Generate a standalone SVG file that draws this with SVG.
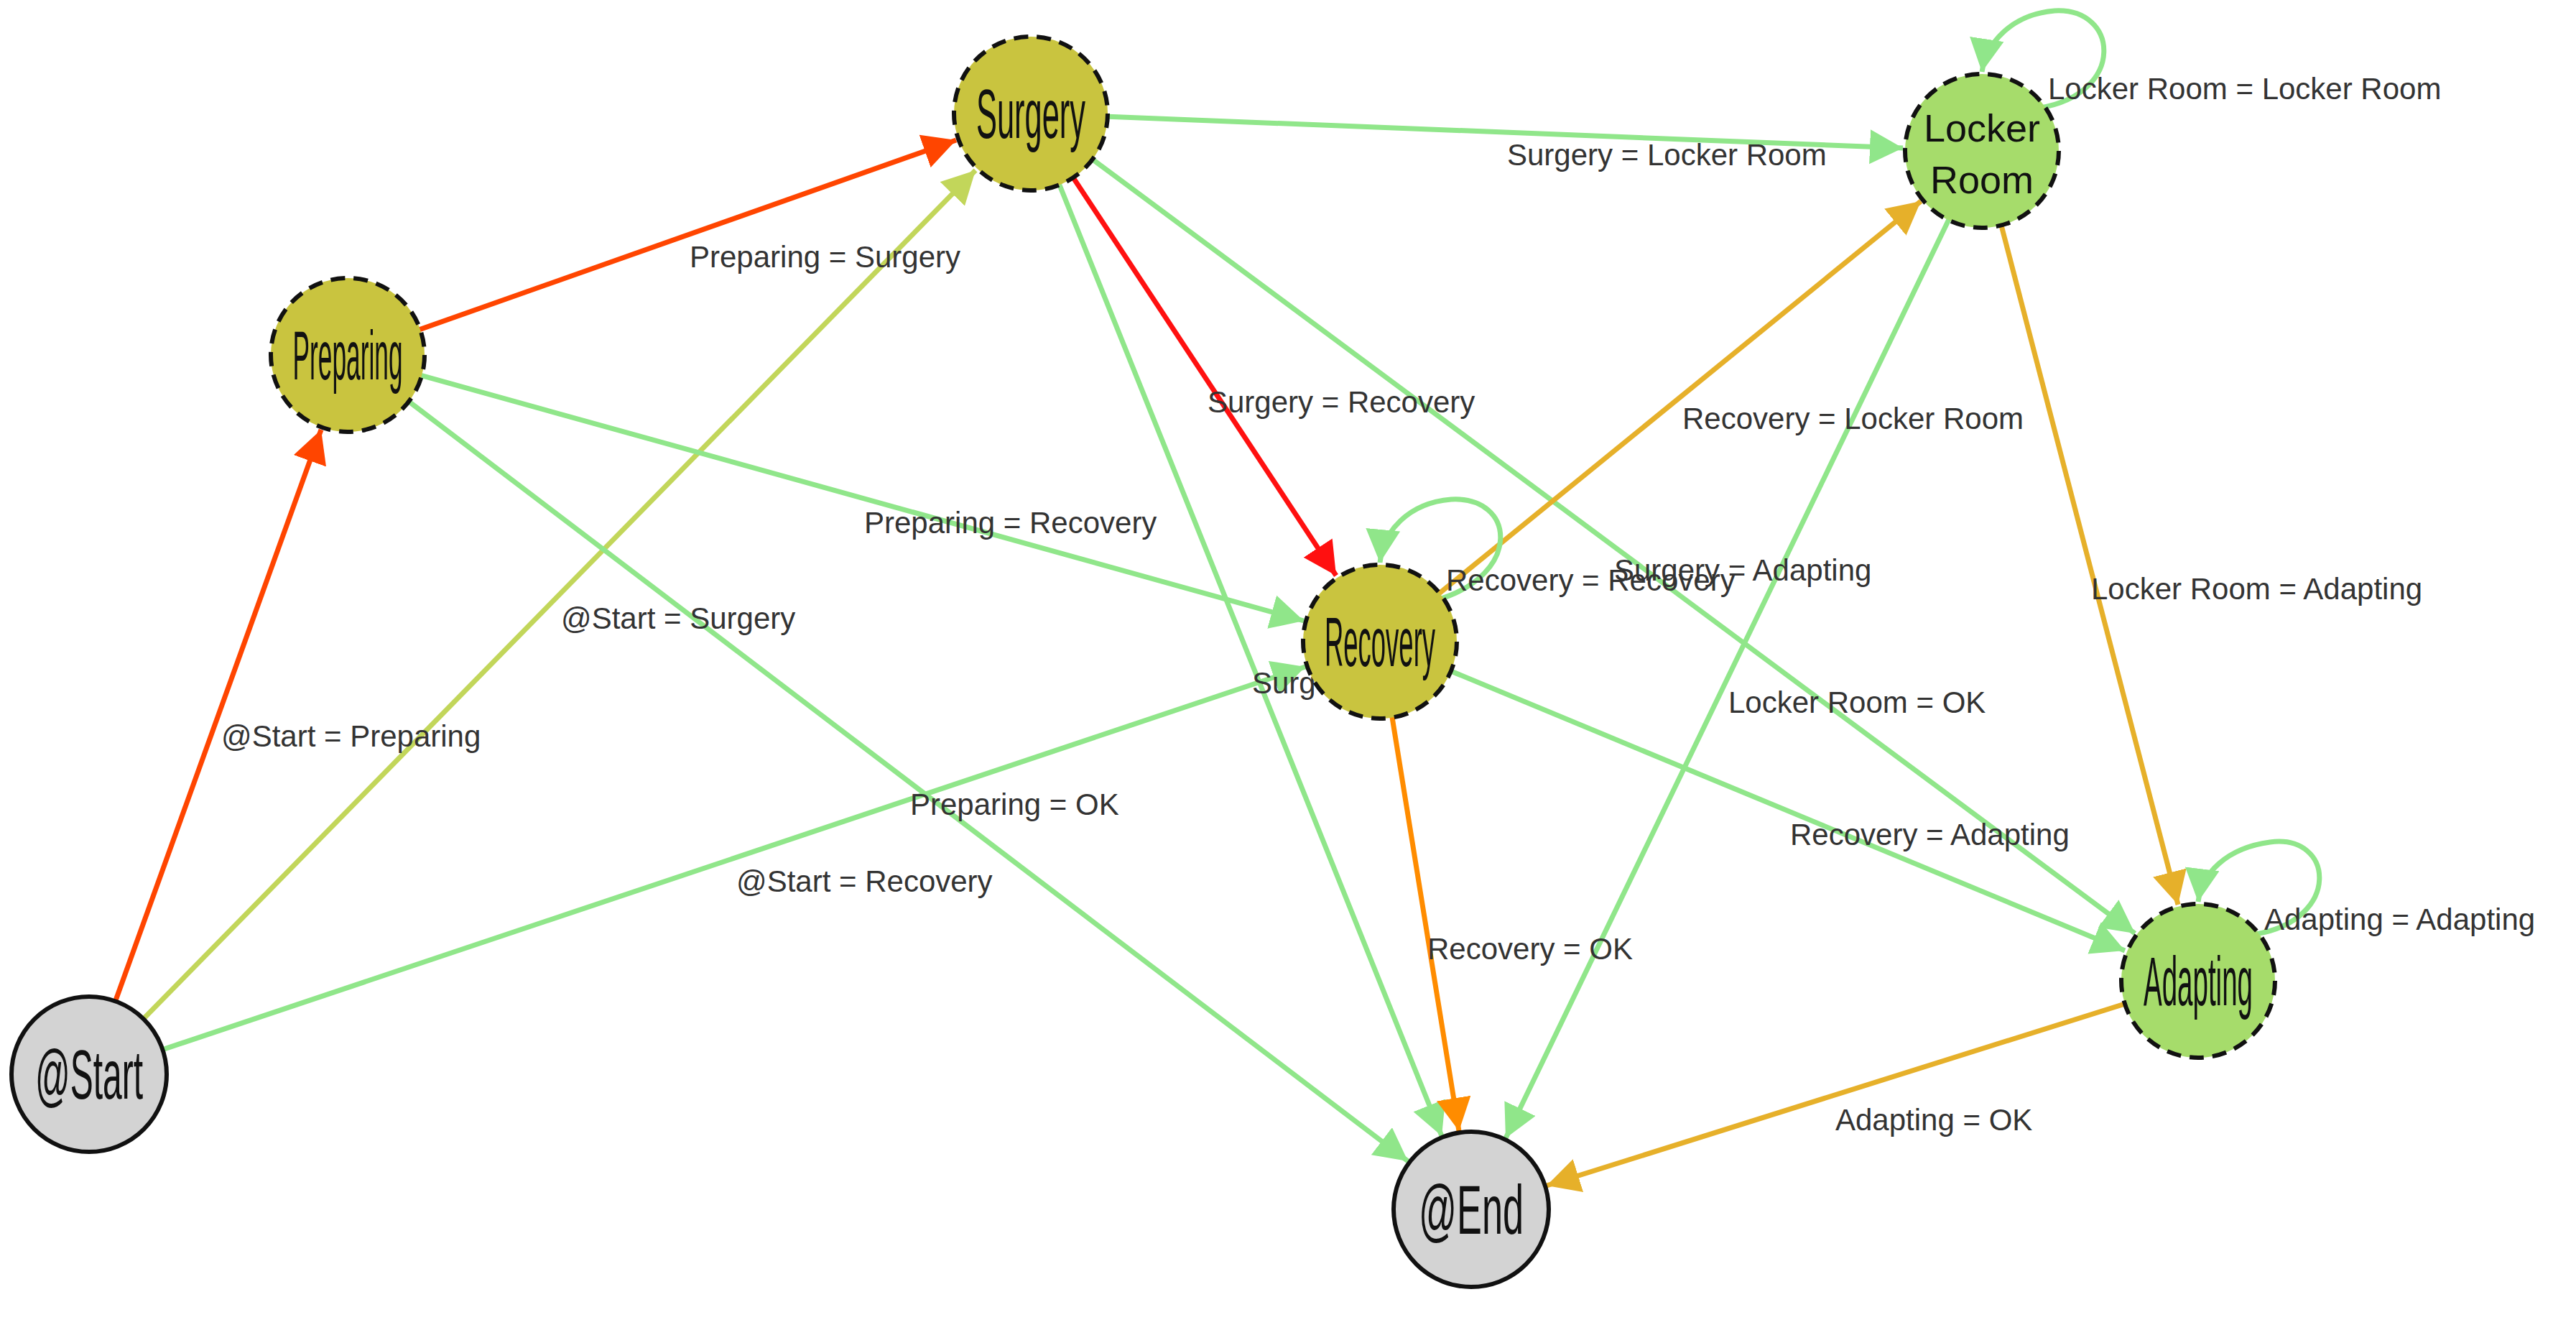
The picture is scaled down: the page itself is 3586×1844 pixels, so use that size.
<svg xmlns="http://www.w3.org/2000/svg" width="3586" height="1844" viewBox="0 0 3586 1844">
<style>
.e{fill:none;stroke-width:7}
.lbl{font-family:"Liberation Sans",Arial,sans-serif;font-size:42px;fill:#333}
.nt{font-family:"Liberation Sans",Arial,sans-serif;font-size:96px;fill:#111;text-anchor:middle;dominant-baseline:central}
.dash{stroke:#111;stroke-width:6;stroke-dasharray:20 12}
.solid{stroke:#111;stroke-width:6;fill:#d3d3d3}
.ol{fill:#c9c43f}
.gr{fill:#a6dc6b}
</style>
<defs>
<marker id="mRO" markerUnits="userSpaceOnUse" markerWidth="50" markerHeight="50" refX="46" refY="24" orient="auto"><path d="M0,0 L46,24 L0,48 Z" fill="#ff4500"/></marker>
<marker id="mR" markerUnits="userSpaceOnUse" markerWidth="50" markerHeight="50" refX="46" refY="24" orient="auto"><path d="M0,0 L46,24 L0,48 Z" fill="#ff1010"/></marker>
<marker id="mYG" markerUnits="userSpaceOnUse" markerWidth="50" markerHeight="50" refX="46" refY="24" orient="auto"><path d="M0,0 L46,24 L0,48 Z" fill="#c2d65a"/></marker>
<marker id="mG" markerUnits="userSpaceOnUse" markerWidth="50" markerHeight="50" refX="46" refY="24" orient="auto"><path d="M0,0 L46,24 L0,48 Z" fill="#90e68a"/></marker>
<marker id="mO" markerUnits="userSpaceOnUse" markerWidth="50" markerHeight="50" refX="46" refY="24" orient="auto"><path d="M0,0 L46,24 L0,48 Z" fill="#ff8c00"/></marker>
<marker id="mGo" markerUnits="userSpaceOnUse" markerWidth="50" markerHeight="50" refX="46" refY="24" orient="auto"><path d="M0,0 L46,24 L0,48 Z" fill="#e6b02a"/></marker>
</defs>
<rect width="3586" height="1844" fill="#fff"/>
<g id="connectors">
<line class="e" x1="124" y1="1495" x2="447" y2="598" stroke="#ff4500" marker-end="url(#mRO)"/>
<line class="e" x1="484" y1="494" x2="1331" y2="195" stroke="#ff4500" marker-end="url(#mRO)"/>
<line class="e" x1="124" y1="1495" x2="1358" y2="237" stroke="#c2d65a" marker-end="url(#mYG)"/>
<line class="e" x1="124" y1="1495" x2="1817" y2="928" stroke="#90e68a" marker-end="url(#mG)"/>
<line class="e" x1="484" y1="494" x2="1815" y2="864" stroke="#90e68a" marker-end="url(#mG)"/>
<line class="e" x1="484" y1="494" x2="1960" y2="1616" stroke="#90e68a" marker-end="url(#mG)"/>
<line class="e" x1="1435" y1="158" x2="2649" y2="206" stroke="#90e68a" marker-end="url(#mG)"/>
<line class="e" x1="1435" y1="158" x2="1860" y2="801" stroke="#ff1010" marker-end="url(#mR)"/>
<line class="e" x1="1435" y1="158" x2="2007" y2="1581" stroke="#90e68a" marker-end="url(#mG)"/>
<line class="e" x1="1435" y1="158" x2="2972" y2="1299" stroke="#90e68a" marker-end="url(#mG)"/>
<line class="e" x1="1921" y1="893" x2="2674" y2="280" stroke="#e6b02a" marker-end="url(#mGo)"/>
<line class="e" x1="1921" y1="893" x2="2031" y2="1574" stroke="#ff8c00" marker-end="url(#mO)"/>
<line class="e" x1="1921" y1="893" x2="2958" y2="1323" stroke="#90e68a" marker-end="url(#mG)"/>
<line class="e" x1="2759" y1="210" x2="2096" y2="1584" stroke="#90e68a" marker-end="url(#mG)"/>
<line class="e" x1="2759" y1="210" x2="3032" y2="1259" stroke="#e6b02a" marker-end="url(#mGo)"/>
<line class="e" x1="3060" y1="1365" x2="2153" y2="1650" stroke="#e6b02a" marker-end="url(#mGo)"/>
<path class="e" d="M2840,150 C2960,130 2950,10 2860,15 C2800,20 2765,60 2759,100" stroke="#90e68a" marker-end="url(#mG)"/>
<path class="e" d="M2000,835 C2120,800 2110,690 2020,695 C1960,700 1925,740 1921,783" stroke="#90e68a" marker-end="url(#mG)"/>
<path class="e" d="M3140,1300 C3260,1280 3250,1160 3160,1172 C3100,1180 3065,1215 3060,1255" stroke="#90e68a" marker-end="url(#mG)"/>
</g>
<g id="labels" class="lbl">
<text x="960" y="372">Preparing = Surgery</text>
<text x="1203" y="742">Preparing = Recovery</text>
<text x="781" y="875">@Start = Surgery</text>
<text x="308" y="1039">@Start = Preparing</text>
<text x="1267" y="1134">Preparing = OK</text>
<text x="1025" y="1241">@Start = Recovery</text>
<text x="1743" y="965">Surgery = OK</text>
<text x="1681" y="574">Surgery = Recovery</text>
<text x="2851" y="138">Locker Room = Locker Room</text>
<text x="2098" y="230">Surgery = Locker Room</text>
<text x="2342" y="597">Recovery = Locker Room</text>
<text x="2013" y="822">Recovery = Recovery</text>
<text x="2247" y="808">Surgery = Adapting</text>
<text x="2911" y="834">Locker Room = Adapting</text>
<text x="2406" y="992">Locker Room = OK</text>
<text x="2492" y="1176">Recovery = Adapting</text>
<text x="3152" y="1294">Adapting = Adapting</text>
<text x="1987" y="1335">Recovery = OK</text>
<text x="2555" y="1573">Adapting = OK</text>
</g>
<g id="start"><circle cx="124" cy="1495" r="108" class="solid"/><text class="nt" x="124" y="1495" textLength="150" lengthAdjust="spacingAndGlyphs">@Start</text></g>
<g id="preparing"><circle cx="484" cy="494" r="107" class="ol dash"/><text class="nt" x="484" y="494" textLength="153" lengthAdjust="spacingAndGlyphs">Preparing</text></g>
<g id="surgery"><circle cx="1435" cy="158" r="107" class="ol dash"/><text class="nt" x="1435" y="158" textLength="152" lengthAdjust="spacingAndGlyphs">Surgery</text></g>
<g id="recovery"><circle cx="1921" cy="893" r="107" class="ol dash"/><text class="nt" x="1921" y="893" textLength="154" lengthAdjust="spacingAndGlyphs">Recovery</text></g>
<g id="locker"><circle cx="2759" cy="210" r="107" class="gr dash"/><text class="nt" x="2759" y="178" style="font-size:54px">Locker</text><text class="nt" x="2759" y="250" style="font-size:54px">Room</text></g>
<g id="adapting"><circle cx="3060" cy="1365" r="107" class="gr dash"/><text class="nt" x="3060" y="1365" textLength="152" lengthAdjust="spacingAndGlyphs">Adapting</text></g>
<g id="end"><circle cx="2048" cy="1683" r="108" class="solid"/><text class="nt" x="2048" y="1683" textLength="146" lengthAdjust="spacingAndGlyphs">@End</text></g>
</svg>
